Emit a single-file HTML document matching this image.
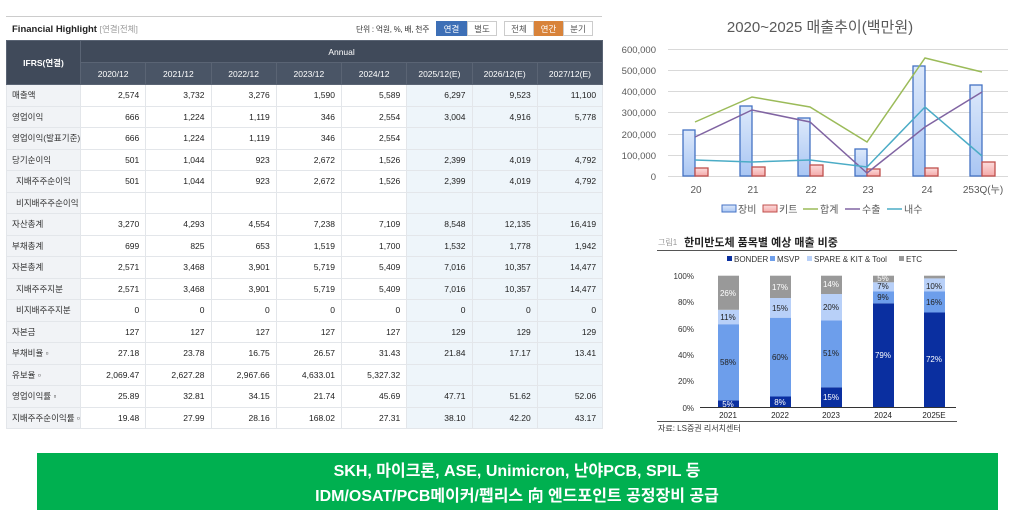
<!DOCTYPE html>
<html><head><meta charset="utf-8">
<style>
*{margin:0;padding:0;box-sizing:border-box}
body{width:1009px;height:513px;background:#fff;position:relative;overflow:hidden;font-family:"Liberation Sans","Noto Sans CJK KR",sans-serif}
.abs{position:absolute}
table{border-collapse:collapse;table-layout:fixed;font-size:8.5px;color:#222}
td,th{border:1px solid #e3e6ea;overflow:hidden;white-space:nowrap}
th{background:#404a5a;color:#fff;font-weight:normal;border-color:#5a6474;font-size:8.5px}
td{height:21.5px;text-align:right;padding-right:6px}
td.l{text-align:left;padding-left:5px;background:#f1f3f6;color:#333}
td.l.s{padding-left:9px}
td.e{background:#eef5fa}
.btn{position:absolute;top:21px;height:15px;font-size:8.5px;text-align:center;line-height:15px;border:1px solid #ccc;color:#555;background:#fff}
</style></head><body>
<div class="abs" style="left:6px;top:16px;width:596px;height:1px;background:#ccc"></div>
<div class="abs" style="left:12px;top:23px;font-size:9.5px;font-weight:bold;color:#222">Financial Highlight <span style="font-weight:normal;color:#999;font-size:8.5px">[연결|전체]</span></div>
<div class="abs" style="left:356px;top:24px;font-size:7.8px;color:#333;letter-spacing:-0.2px">단위 : 억원, %, 배, 천주</div>
<div class="btn" style="left:436px;width:31px;background:#3d6fb6;color:#fff;border-color:#3d6fb6">연결</div>
<div class="btn" style="left:467px;width:30px">별도</div>
<div class="btn" style="left:504px;width:30px">전체</div>
<div class="btn" style="left:534px;width:29px;background:#d8833a;color:#fff;border-color:#d8833a">연간</div>
<div class="btn" style="left:563px;width:30px">분기</div>

<table class="abs" style="left:6px;top:40px;width:596px">
<colgroup><col style="width:74px"><col span="8" style="width:65.25px"></colgroup>
<tr><th rowspan="2" style="height:44px;font-weight:bold">IFRS(연결)</th><th colspan="8" style="height:22px">Annual</th></tr>
<tr style="height:22px"><th style="background:#4a5566">2020/12</th><th style="background:#4a5566">2021/12</th><th style="background:#4a5566">2022/12</th><th style="background:#4a5566">2023/12</th><th style="background:#4a5566">2024/12</th><th style="background:#4a5566">2025/12(E)</th><th style="background:#4a5566">2026/12(E)</th><th style="background:#4a5566">2027/12(E)</th></tr>
<tr><td class="l">매출액</td><td>2,574</td><td>3,732</td><td>3,276</td><td>1,590</td><td>5,589</td><td class="e">6,297</td><td class="e">9,523</td><td class="e">11,100</td></tr>
<tr><td class="l">영업이익</td><td>666</td><td>1,224</td><td>1,119</td><td>346</td><td>2,554</td><td class="e">3,004</td><td class="e">4,916</td><td class="e">5,778</td></tr>
<tr><td class="l">영업이익(발표기준)</td><td>666</td><td>1,224</td><td>1,119</td><td>346</td><td>2,554</td><td class="e"></td><td class="e"></td><td class="e"></td></tr>
<tr><td class="l">당기순이익</td><td>501</td><td>1,044</td><td>923</td><td>2,672</td><td>1,526</td><td class="e">2,399</td><td class="e">4,019</td><td class="e">4,792</td></tr>
<tr><td class="l s">지배주주순이익</td><td>501</td><td>1,044</td><td>923</td><td>2,672</td><td>1,526</td><td class="e">2,399</td><td class="e">4,019</td><td class="e">4,792</td></tr>
<tr><td class="l s">비지배주주순이익</td><td></td><td></td><td></td><td></td><td></td><td class="e"></td><td class="e"></td><td class="e"></td></tr>
<tr><td class="l">자산총계</td><td>3,270</td><td>4,293</td><td>4,554</td><td>7,238</td><td>7,109</td><td class="e">8,548</td><td class="e">12,135</td><td class="e">16,419</td></tr>
<tr><td class="l">부채총계</td><td>699</td><td>825</td><td>653</td><td>1,519</td><td>1,700</td><td class="e">1,532</td><td class="e">1,778</td><td class="e">1,942</td></tr>
<tr><td class="l">자본총계</td><td>2,571</td><td>3,468</td><td>3,901</td><td>5,719</td><td>5,409</td><td class="e">7,016</td><td class="e">10,357</td><td class="e">14,477</td></tr>
<tr><td class="l s">지배주주지분</td><td>2,571</td><td>3,468</td><td>3,901</td><td>5,719</td><td>5,409</td><td class="e">7,016</td><td class="e">10,357</td><td class="e">14,477</td></tr>
<tr><td class="l s">비지배주주지분</td><td>0</td><td>0</td><td>0</td><td>0</td><td>0</td><td class="e">0</td><td class="e">0</td><td class="e">0</td></tr>
<tr><td class="l">자본금</td><td>127</td><td>127</td><td>127</td><td>127</td><td>127</td><td class="e">129</td><td class="e">129</td><td class="e">129</td></tr>
<tr><td class="l">부채비율 ▫</td><td>27.18</td><td>23.78</td><td>16.75</td><td>26.57</td><td>31.43</td><td class="e">21.84</td><td class="e">17.17</td><td class="e">13.41</td></tr>
<tr><td class="l">유보율 ▫</td><td>2,069.47</td><td>2,627.28</td><td>2,967.66</td><td>4,633.01</td><td>5,327.32</td><td class="e"></td><td class="e"></td><td class="e"></td></tr>
<tr><td class="l">영업이익률 ▫</td><td>25.89</td><td>32.81</td><td>34.15</td><td>21.74</td><td>45.69</td><td class="e">47.71</td><td class="e">51.62</td><td class="e">52.06</td></tr>
<tr><td class="l">지배주주순이익률 ▫</td><td>19.48</td><td>27.99</td><td>28.16</td><td>168.02</td><td>27.31</td><td class="e">38.10</td><td class="e">42.20</td><td class="e">43.17</td></tr>
</table>
<div class="abs" style="left:0;top:429px;width:610px;height:20px;background:#fff"></div>

<svg class="abs" style="left:0;top:0" width="1009" height="513" font-family="Liberation Sans, Noto Sans CJK KR, sans-serif">
<defs>
<linearGradient id="gb" x1="0" y1="0" x2="0" y2="1"><stop offset="0" stop-color="#dde9fb"/><stop offset="1" stop-color="#a9c6f3"/></linearGradient>
<linearGradient id="gr" x1="0" y1="0" x2="0" y2="1"><stop offset="0" stop-color="#fcdcdc"/><stop offset="1" stop-color="#f4a9a9"/></linearGradient>
</defs>
<text x="820" y="32" font-size="15" fill="#595959" text-anchor="middle">2020~2025 매출추이(백만원)</text>
<g stroke="#d9d9d9" stroke-width="1">
<line x1="668" y1="49.5" x2="1008" y2="49.5"/><line x1="668" y1="70.5" x2="1008" y2="70.5"/><line x1="668" y1="91.5" x2="1008" y2="91.5"/><line x1="668" y1="112.5" x2="1008" y2="112.5"/><line x1="668" y1="134.5" x2="1008" y2="134.5"/><line x1="668" y1="155.5" x2="1008" y2="155.5"/><line x1="668" y1="176.5" x2="1008" y2="176.5"/>
</g>
<g font-size="9.5" fill="#595959" text-anchor="end">
<text x="656" y="53">600,000</text><text x="656" y="74">500,000</text><text x="656" y="95">400,000</text><text x="656" y="116">300,000</text><text x="656" y="138">200,000</text><text x="656" y="159">100,000</text><text x="656" y="180">0</text>
</g>
<g stroke="#4472c4" stroke-width="1.3" fill="url(#gb)">
<rect x="683" y="130" width="12" height="46"/><rect x="740" y="106" width="12" height="70"/><rect x="798" y="118" width="12" height="58"/><rect x="855" y="149" width="12" height="27"/><rect x="913" y="66" width="12" height="110"/><rect x="970" y="85" width="12" height="91"/>
</g>
<g stroke="#c0504d" stroke-width="1.3" fill="url(#gr)">
<rect x="695" y="168" width="13" height="8"/><rect x="752" y="167" width="13" height="9"/><rect x="810" y="165" width="13" height="11"/><rect x="867" y="169" width="13" height="7"/><rect x="925" y="168" width="13" height="8"/><rect x="982" y="162" width="13" height="14"/>
</g>
<polyline fill="none" stroke="#9bbb59" stroke-width="1.5" points="695,122 752,97 810,107 867,142 925,58 982,72"/>
<polyline fill="none" stroke="#8064a2" stroke-width="1.5" points="695,137 752,110 810,122 867,173 925,127 982,92"/>
<polyline fill="none" stroke="#4bacc6" stroke-width="1.5" points="695,160 752,162 810,160 867,167 925,107 982,156"/>
<g font-size="10" fill="#595959" text-anchor="middle">
<text x="696" y="193">20</text><text x="753" y="193">21</text><text x="811" y="193">22</text><text x="868" y="193">23</text><text x="927" y="193">24</text><text x="983" y="193">253Q(누)</text>
</g>
<g font-size="10" fill="#595959">
<rect x="722" y="205" width="14" height="7" fill="url(#gb)" stroke="#4472c4"/><text x="738" y="213">장비</text>
<rect x="763" y="205" width="14" height="7" fill="url(#gr)" stroke="#c0504d"/><text x="779" y="213">키트</text>
<line x1="803" y1="209" x2="818" y2="209" stroke="#9bbb59" stroke-width="1.5"/><text x="820" y="213">합계</text>
<line x1="845" y1="209" x2="860" y2="209" stroke="#8064a2" stroke-width="1.5"/><text x="862" y="213">수출</text>
<line x1="887" y1="209" x2="902" y2="209" stroke="#4bacc6" stroke-width="1.5"/><text x="904" y="213">내수</text>
</g>

<text x="658" y="245" font-size="8" fill="#999">그림1</text>
<text x="684" y="246" font-size="11" font-weight="bold" fill="#222">한미반도체 품목별 예상 매출 비중</text>
<line x1="657" y1="250.5" x2="957" y2="250.5" stroke="#555" stroke-width="1"/>
<g font-size="8" fill="#333">
<rect x="727" y="256" width="5" height="5" fill="#0a2fa0"/><text x="734" y="262">BONDER</text>
<rect x="770" y="256" width="5" height="5" fill="#6d9eeb"/><text x="777" y="262">MSVP</text>
<rect x="807" y="256" width="5" height="5" fill="#b8d0f8"/><text x="814" y="262">SPARE &amp; KIT &amp; Tool</text>
<rect x="899" y="256" width="5" height="5" fill="#999"/><text x="906" y="262">ETC</text>
</g>
<g font-size="8" fill="#333" text-anchor="end">
<text x="694" y="279">100%</text><text x="694" y="305">80%</text><text x="694" y="332">60%</text><text x="694" y="358">40%</text><text x="694" y="384">20%</text><text x="694" y="411">0%</text>
</g>
<g>
<rect x="718" y="400.4" width="21" height="6.6" fill="#0a2fa0"/><rect x="718" y="324.2" width="21" height="76.2" fill="#6d9eeb"/><rect x="718" y="309.8" width="21" height="14.4" fill="#b8d0f8"/><rect x="718" y="275.7" width="21" height="34.1" fill="#999"/>
<rect x="770" y="396.5" width="21" height="10.5" fill="#0a2fa0"/><rect x="770" y="317.7" width="21" height="78.8" fill="#6d9eeb"/><rect x="770" y="298" width="21" height="19.7" fill="#b8d0f8"/><rect x="770" y="275.7" width="21" height="22.3" fill="#999"/>
<rect x="821" y="387.3" width="21" height="19.7" fill="#0a2fa0"/><rect x="821" y="320.3" width="21" height="67" fill="#6d9eeb"/><rect x="821" y="294" width="21" height="26.3" fill="#b8d0f8"/><rect x="821" y="275.7" width="21" height="18.3" fill="#999"/>
<rect x="873" y="303.3" width="21" height="103.7" fill="#0a2fa0"/><rect x="873" y="291.5" width="21" height="11.8" fill="#6d9eeb"/><rect x="873" y="282.3" width="21" height="9.2" fill="#b8d0f8"/><rect x="873" y="275.7" width="21" height="6.6" fill="#999"/>
<rect x="924" y="312.5" width="21" height="94.5" fill="#0a2fa0"/><rect x="924" y="291.5" width="21" height="21" fill="#6d9eeb"/><rect x="924" y="278.4" width="21" height="13.1" fill="#b8d0f8"/><rect x="924" y="275.7" width="21" height="2.7" fill="#999"/>
</g>
<line x1="700" y1="407.5" x2="956" y2="407.5" stroke="#333" stroke-width="1"/>
<g font-size="8" text-anchor="middle" fill="#222">
<text x="728" y="407" fill="#fff">5%</text><text x="728" y="365">58%</text><text x="728" y="320">11%</text><text x="728" y="296" fill="#fff">26%</text>
<text x="780" y="405" fill="#fff">8%</text><text x="780" y="360">60%</text><text x="780" y="311">15%</text><text x="780" y="290" fill="#fff">17%</text>
<text x="831" y="400" fill="#fff">15%</text><text x="831" y="356">51%</text><text x="831" y="310">20%</text><text x="831" y="287" fill="#fff">14%</text>
<text x="883" y="358" fill="#fff">79%</text><text x="883" y="300">9%</text><text x="883" y="289">7%</text><text x="883" y="281" fill="#fff">5%</text>
<text x="934" y="362" fill="#fff">72%</text><text x="934" y="305">16%</text><text x="934" y="289">10%</text>
</g>
<g font-size="8" text-anchor="middle" fill="#222">
<text x="728" y="418">2021</text><text x="780" y="418">2022</text><text x="831" y="418">2023</text><text x="883" y="418">2024</text><text x="934" y="418">2025E</text>
</g>
<line x1="657" y1="421.5" x2="957" y2="421.5" stroke="#555"/>
<text x="658" y="431" font-size="8" fill="#333">자료: LS증권 리서치센터</text>

<rect x="37" y="453" width="961" height="57" fill="#00b050"/>
<text x="517" y="476" font-size="16" font-weight="bold" fill="#fff" text-anchor="middle">SKH, 마이크론, ASE, Unimicron, 난야PCB, SPIL 등</text>
<text x="517" y="501" font-size="16" font-weight="bold" fill="#fff" text-anchor="middle">IDM/OSAT/PCB메이커/펩리스 向 엔드포인트 공정장비 공급</text>
</svg>
</body></html>
